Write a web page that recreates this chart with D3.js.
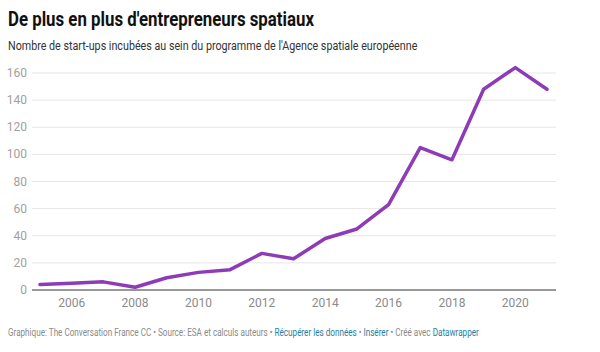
<!DOCTYPE html>
<html><head><meta charset="utf-8">
<script src="https://cdn.jsdelivr.net/npm/d3@7"></script>
<style>
body{margin:0;background:#fff;font-family:Roboto,"Noto Sans",sans-serif;}
svg{display:block}
</style></head><body>
<svg id="c" width="600" height="352"></svg>
<script>
const years = [2005,2006,2007,2008,2009,2010,2011,2012,2013,2014,2015,2016,2017,2018,2019,2020,2021];
const startups = [4,5,6,2,9,13,15,27,23,38,45,63,105,96,148,164,148];
const yTicks = [0,20,40,60,80,100,120,140,160];
const xTicks = [2006,2008,2010,2012,2014,2016,2018,2020];
const title = "De plus en plus d'entrepreneurs spatiaux";
const subtitle = "Nombre de start-ups incubées au sein du programme de l'Agence spatiale européenne";

const svg = d3.select("#c");
const x = d3.scaleLinear().domain([2005,2021]).range([40,547]);
const y = d3.scaleLinear().domain([0,160]).range([290,73]);

function fit(sel, x0, yb, w){
  const bw = sel.node().getBBox().width;
  sel.attr("x",0).attr("y",0).attr("transform",`translate(${x0},${yb}) scale(${w/bw},1)`);
}

const t1 = svg.append("text").attr("font-size",20).attr("font-weight",700).attr("fill","#111").text(title);
fit(t1, 8, 26, 307);
const t2 = svg.append("text").attr("font-size",13).attr("fill","#333").text(subtitle);
fit(t2, 8, 50, 410);

const grid = svg.append("g");
yTicks.forEach(t=>{
  grid.append("line").attr("x1",32).attr("x2",556).attr("y1",y(t)).attr("y2",y(t))
    .attr("stroke", t===0?"#333":"#e6e6e6").attr("stroke-width",1);
  grid.append("text").attr("x",27).attr("y",y(t)+4).attr("text-anchor","end")
    .attr("font-size",12).attr("fill","#a0a0a0").text(t);
});
xTicks.forEach(t=>{
  svg.append("text").attr("x",x(t)).attr("y",307).attr("text-anchor","middle")
    .attr("font-size",12).attr("fill","#8a8a8a").text(t);
});

const line = d3.line().x((d,i)=>x(years[i])).y(d=>y(d));
svg.append("path").datum(startups).attr("d",line).attr("fill","none")
  .attr("stroke","#8e3bb8").attr("stroke-width",3.5).attr("stroke-linejoin","round").attr("stroke-linecap","round");

const foot = svg.append("text").attr("font-size",11).attr("fill","#8a8a8a");
foot.append("tspan").text("Graphique: The Conversation France CC • Source: ESA et calculs auteurs • ");
foot.append("tspan").attr("fill","#1d81a2").text("Récupérer les données");
foot.append("tspan").text(" • ");
foot.append("tspan").attr("fill","#1d81a2").text("Insérer");
foot.append("tspan").text(" • Créé avec ");
foot.append("tspan").attr("fill","#1d81a2").text("Datawrapper");
fit(foot, 8, 336, 472);
</script></body></html>
